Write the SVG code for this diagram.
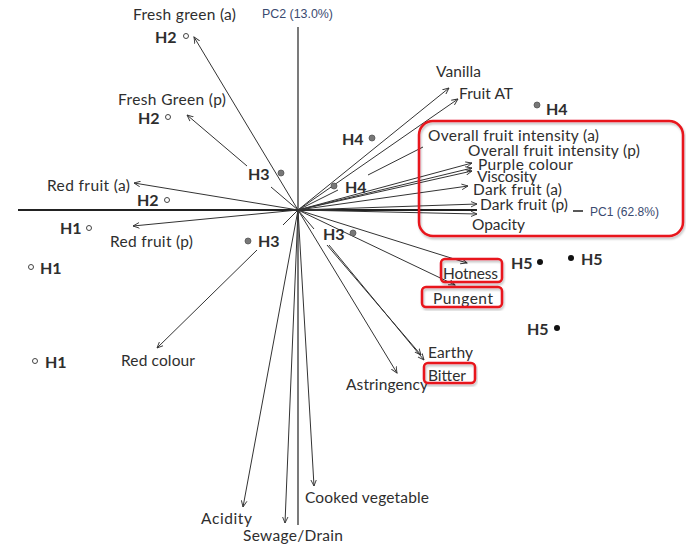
<svg xmlns="http://www.w3.org/2000/svg" width="686" height="545" viewBox="0 0 686 545">
<defs>
<marker id="ah" viewBox="0 0 10 10" refX="9" refY="5" markerWidth="7" markerHeight="7" markerUnits="userSpaceOnUse" orient="auto">
<path d="M0,1 L9,5 L0,9" fill="none" stroke="#333" stroke-width="1.3"/>
</marker>
<filter id="sh" x="-5%" y="-10%" width="110%" height="130%">
<feDropShadow dx="1" dy="2" stdDeviation="1.2" flood-color="#000" flood-opacity="0.25"/>
</filter>
</defs>
<style>
.ln{stroke:#333;stroke-width:1;fill:none}
.ar{stroke:#333;stroke-width:1;fill:none;marker-end:url(#ah)}
.ax{stroke:#222;fill:none}
.t{font-family:Lato,"Open Sans","Liberation Sans",sans-serif;font-size:15.5px;fill:#2e2e2e}
.h{font-family:Lato,"Open Sans","Liberation Sans",sans-serif;font-size:16px;font-weight:bold;fill:#2e2e2e}
.pc{font-family:"Liberation Sans",Arial,sans-serif;font-size:12px;fill:#3a4a70}
.op{fill:#fff;stroke:#444;stroke-width:1}
.gr{fill:#777;stroke:#555;stroke-width:0.8}
.bk{fill:#111}
.box{fill:none;stroke:#e8141b;stroke-width:2.5;filter:url(#sh)}
</style>
<rect width="686" height="545" fill="#fff"/>

<g id="axes">
<line class="ax" x1="18" y1="210" x2="477" y2="210" stroke-width="2"/>
<line class="ax" x1="298" y1="27" x2="298" y2="525" stroke-width="1.2"/>
<line class="ax" x1="573" y1="211" x2="583" y2="211" stroke-width="1.5"/>
<text class="pc" x="262" y="18" textLength="71" lengthAdjust="spacingAndGlyphs">PC2 (13.0%)</text>
<text class="pc" x="590" y="216" textLength="69" lengthAdjust="spacingAndGlyphs">PC1 (62.8%)</text>
</g>

<g id="connectors">
<line class="ar" x1="298" y1="210" x2="194" y2="37"/>
<line class="ln" x1="298" y1="210" x2="271" y2="187"/>
<line class="ar" x1="247" y1="166" x2="187" y2="115"/>
<line class="ar" x1="298" y1="210" x2="134" y2="183"/>
<line class="ar" x1="298" y1="210" x2="133" y2="226"/>
<line class="ln" x1="298" y1="210" x2="283" y2="225"/>
<line class="ar" x1="257" y1="250" x2="157" y2="348"/>
<line class="ar" x1="298" y1="210" x2="449" y2="88"/>
<line class="ar" x1="298" y1="210" x2="458" y2="99"/>
<line class="ln" x1="298" y1="210" x2="338" y2="190"/>
<line class="ln" x1="368" y1="175" x2="423" y2="147"/>
<line class="ar" x1="298" y1="210" x2="472" y2="163"/>
<line class="ar" x1="298" y1="210" x2="472" y2="168"/>
<line class="ar" x1="298" y1="210" x2="472" y2="171"/>
<line class="ar" x1="298" y1="210" x2="468" y2="186"/>
<line class="ar" x1="298" y1="210" x2="477" y2="204"/>
<line class="ar" x1="298" y1="210" x2="477" y2="214"/>
<line class="ar" x1="298" y1="210" x2="467" y2="263"/>
<line class="ar" x1="298" y1="210" x2="455" y2="285"/>
<line class="ln" x1="298" y1="210" x2="314" y2="229"/>
<line class="ar" x1="327" y1="245" x2="421" y2="355"/>
<line class="ar" x1="329" y1="245" x2="424" y2="360"/>
<line class="ar" x1="298" y1="210" x2="397" y2="373"/>
<line class="ar" x1="298" y1="210" x2="243" y2="507"/>
<line class="ar" x1="298" y1="210" x2="285" y2="523"/>
<line class="ar" x1="298" y1="210" x2="314" y2="486"/>
</g>

<g id="attribute-labels">
<text class="t" x="133" y="20" textLength="103">Fresh green (a)</text>
<text class="t" x="118" y="105" textLength="108">Fresh Green (p)</text>
<text class="t" x="47" y="191" textLength="83">Red fruit (a)</text>
<text class="t" x="110" y="247" textLength="83">Red fruit (p)</text>
<text class="t" x="121" y="366" textLength="74">Red colour</text>
<text class="t" x="436" y="77" textLength="45">Vanilla</text>
<text class="t" x="459" y="99" textLength="54">Fruit AT</text>
<text class="t" x="428" y="141" textLength="171">Overall fruit intensity  (a)</text>
<text class="t" x="468" y="156" textLength="172">Overall fruit intensity  (p)</text>
<text class="t" x="478" y="170" textLength="95">Purple colour</text>
<text class="t" x="477" y="182" textLength="60">Viscosity</text>
<text class="t" x="473" y="195" textLength="89">Dark fruit (a)</text>
<text class="t" x="480" y="210" textLength="88">Dark fruit (p)</text>
<text class="t" x="472" y="230" textLength="53">Opacity</text>
<text class="t" x="443" y="279" textLength="55">Hotness</text>
<text class="t" x="433" y="304" textLength="60">Pungent</text>
<text class="t" x="428" y="358" textLength="45">Earthy</text>
<text class="t" x="428" y="381" textLength="38">Bitter</text>
<text class="t" x="346" y="390" textLength="82">Astringency</text>
<text class="t" x="305" y="503" textLength="124">Cooked vegetable</text>
<text class="t" x="201" y="524" textLength="51">Acidity</text>
<text class="t" x="243" y="541" textLength="100">Sewage/Drain</text>
</g>

<g id="highlight-boxes">
<rect class="box" x="419" y="121" width="264" height="115" rx="14"/>
<rect class="box" x="441" y="259" width="61" height="23" rx="4"/>
<rect class="box" x="422" y="287" width="80" height="20" rx="4"/>
<rect class="box" x="424" y="363" width="51" height="20" rx="4"/>
</g>

<g id="H1-a"><circle class="op" cx="89" cy="228" r="2.5"/><text class="h" x="60" y="234">H1</text></g>
<g id="H1-b"><circle class="op" cx="31" cy="267" r="2.5"/><text class="h" x="40" y="274">H1</text></g>
<g id="H1-c"><circle class="op" cx="35" cy="361" r="2.5"/><text class="h" x="45" y="368">H1</text></g>
<g id="H2-a"><circle class="op" cx="186" cy="36" r="2.5"/><text class="h" x="155" y="43">H2</text></g>
<g id="H2-b"><circle class="op" cx="168" cy="117" r="2.5"/><text class="h" x="138" y="124">H2</text></g>
<g id="H2-c"><circle class="op" cx="167" cy="200" r="2.5"/><text class="h" x="137" y="206">H2</text></g>
<g id="H3-a"><circle class="gr" cx="281" cy="173" r="3"/><text class="h" x="248" y="180">H3</text></g>
<g id="H3-b"><circle class="gr" cx="248" cy="241" r="3"/><text class="h" x="258" y="247">H3</text></g>
<g id="H3-c"><circle class="gr" cx="353" cy="233" r="3"/><text class="h" x="323" y="240">H3</text></g>
<g id="H4-a"><circle class="gr" cx="372" cy="138" r="3"/><text class="h" x="342" y="145">H4</text></g>
<g id="H4-b"><circle class="gr" cx="334" cy="186" r="3"/><text class="h" x="345" y="193">H4</text></g>
<g id="H4-c"><circle class="gr" cx="537" cy="105" r="3"/><text class="h" x="546" y="115">H4</text></g>
<g id="H5-a"><circle class="bk" cx="540" cy="262" r="3"/><text class="h" x="511" y="269">H5</text></g>
<g id="H5-b"><circle class="bk" cx="571" cy="258" r="3"/><text class="h" x="581" y="265">H5</text></g>
<g id="H5-c"><circle class="bk" cx="557" cy="328" r="3"/><text class="h" x="527" y="335">H5</text></g>
</svg>
